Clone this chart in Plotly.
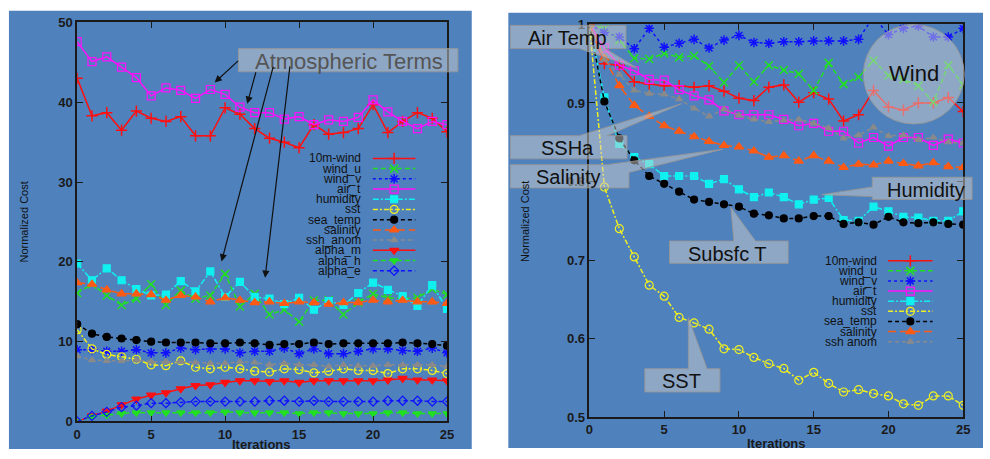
import plotly.graph_objects as go

W, H = 990, 459

iters = list(range(26))

# ---------------- left panel data ----------------
L_names = ["10m-wind", "wind_u", "wind_v", "air_t", "humidity", "sst", "sea_temp",
           "salinity", "ssh_anom", "alpha_m", "alpha_h", "alpha_e"]
L_wind10 = [43.0, 38.3, 38.7, 36.5, 38.9, 38.0, 37.6, 38.2, 35.8, 35.8, 39.3, 38.5, 36.7, 35.5, 35.0, 34.3, 37.2, 36.0, 36.2, 36.7, 39.7, 36.2, 37.6, 38.7, 38.0, 36.3]
L_wind_u = [16.1, 17.2, 15.8, 14.6, 15.4, 17.2, 14.6, 16.4, 15.4, 15.8, 18.5, 14.4, 16.0, 13.4, 14.0, 12.5, 15.2, 15.2, 13.4, 14.9, 16.0, 15.5, 15.4, 15.5, 16.6, 15.9]
L_wind_v = [9.0, 9.0, 8.8, 8.8, 9.0, 8.6, 8.6, 9.2, 9.0, 9.1, 9.1, 8.6, 8.8, 8.8, 9.2, 8.5, 9.1, 8.5, 8.5, 8.8, 9.1, 9.1, 8.9, 8.8, 9.2, 8.6]
L_air_t = [47.6, 45.1, 45.7, 44.4, 43.1, 40.8, 41.8, 41.5, 40.5, 41.6, 41.0, 39.4, 38.7, 38.7, 37.9, 38.2, 37.2, 37.8, 37.6, 38.1, 40.3, 38.8, 37.6, 36.7, 37.6, 37.2]
L_humidity = [19.8, 17.7, 19.2, 17.7, 16.6, 15.8, 15.9, 17.6, 16.3, 18.8, 15.6, 17.5, 15.6, 15.4, 14.7, 15.5, 14.0, 15.1, 14.6, 16.1, 17.4, 16.5, 15.7, 14.5, 17.1, 14.1]
L_sst = [11.5, 9.1, 8.4, 8.1, 7.8, 7.1, 7.0, 7.6, 6.8, 6.6, 6.8, 6.6, 6.3, 6.2, 6.6, 6.5, 6.1, 6.3, 6.6, 6.4, 6.4, 6.0, 6.6, 6.6, 6.4, 6.0]
L_sea_temp = [12.2, 11.0, 10.6, 10.4, 10.2, 10.0, 9.9, 9.9, 9.9, 9.8, 9.8, 9.9, 9.8, 9.6, 9.7, 9.7, 9.9, 9.7, 9.8, 9.8, 9.8, 9.8, 9.9, 9.8, 9.7, 9.5]
L_salinity = [17.4, 17.2, 16.5, 16.0, 16.0, 15.9, 15.2, 15.8, 15.6, 15.0, 15.5, 15.2, 14.9, 15.0, 14.8, 15.0, 14.9, 14.7, 14.9, 14.9, 15.2, 15.0, 15.2, 15.0, 15.0, 14.8]
L_ssh_anom = [8.2, 7.7, 7.6, 7.6, 7.7, 7.5, 7.5, 7.5, 7.4, 7.3, 7.3, 7.5, 7.4, 7.1, 7.3, 7.1, 7.1, 6.9, 7.1, 7.0, 7.0, 7.1, 7.1, 7.1, 7.1, 6.9]
L_alpha_m = [0, 0.7, 1.3, 2.1, 2.8, 3.3, 3.6, 4.1, 4.5, 4.6, 4.9, 5.1, 5.1, 5.0, 5.1, 4.9, 5.1, 5.1, 5.1, 5.1, 5.1, 5.2, 5.4, 5.2, 5.2, 5.1]
L_alpha_h = [0, 0.6, 0.8, 1.0, 1.1, 1.1, 1.1, 1.1, 1.1, 1.1, 1.2, 1.1, 1.1, 1.1, 1.1, 1.0, 1.1, 1.1, 1.0, 1.0, 1.0, 1.1, 1.1, 1.0, 1.0, 1.0]
L_alpha_e = [0, 0.7, 1.2, 1.8, 2.0, 2.3, 2.3, 2.4, 2.5, 2.5, 2.5, 2.5, 2.5, 2.6, 2.6, 2.5, 2.6, 2.5, 2.5, 2.5, 2.5, 2.6, 2.6, 2.6, 2.5, 2.5]
L_values = [L_wind10, L_wind_u, L_wind_v, L_air_t, L_humidity, L_sst, L_sea_temp,
            L_salinity, L_ssh_anom, L_alpha_m, L_alpha_h, L_alpha_e]

# ---------------- right panel data ----------------
R_names = ["10m-wind", "wind_u", "wind_v", "air_t", "humidity", "sst", "sea_temp",
           "salinity", "ssh anom"]
R_wind10 = [1.0, 0.950, 0.948, 0.927, 0.924, 0.922, 0.922, 0.920, 0.922, 0.915, 0.906, 0.903, 0.920, 0.923, 0.901, 0.913, 0.905, 0.877, 0.885, 0.916, 0.895, 0.891, 0.900, 0.900, 0.907, 0.889]
R_wind_u = [1.0, 0.995, 0.980, 0.957, 0.956, 0.963, 0.958, 0.960, 0.947, 0.926, 0.948, 0.927, 0.948, 0.942, 0.937, 0.916, 0.951, 0.924, 0.933, 0.954, 0.935, 0.930, 0.922, 0.901, 0.948, 0.923]
R_wind_v = [1.0, 0.990, 0.984, 0.969, 0.995, 0.971, 0.976, 0.981, 0.970, 0.980, 0.986, 0.977, 0.976, 0.978, 0.978, 0.979, 0.979, 0.979, 0.981, 1.010, 0.987, 0.995, 0.998, 0.984, 0.984, 0.995]
R_air_t = [1.0, 0.970, 0.948, 0.941, 0.930, 0.929, 0.917, 0.909, 0.904, 0.890, 0.885, 0.885, 0.885, 0.879, 0.871, 0.874, 0.864, 0.864, 0.849, 0.856, 0.845, 0.856, 0.856, 0.846, 0.854, 0.849]
R_humidity = [1.0, 0.907, 0.848, 0.831, 0.822, 0.807, 0.807, 0.807, 0.797, 0.803, 0.790, 0.780, 0.786, 0.780, 0.771, 0.777, 0.779, 0.751, 0.750, 0.768, 0.762, 0.755, 0.754, 0.750, 0.750, 0.762]
R_sst = [1.0, 0.793, 0.740, 0.704, 0.668, 0.654, 0.627, 0.620, 0.612, 0.587, 0.586, 0.576, 0.568, 0.562, 0.547, 0.557, 0.543, 0.532, 0.535, 0.530, 0.527, 0.517, 0.515, 0.527, 0.527, 0.515]
R_sea_temp = [1.0, 0.902, 0.855, 0.827, 0.807, 0.797, 0.787, 0.777, 0.774, 0.771, 0.768, 0.759, 0.757, 0.753, 0.753, 0.756, 0.756, 0.746, 0.748, 0.745, 0.755, 0.748, 0.747, 0.748, 0.746, 0.745]
R_salinity = [1.0, 0.957, 0.922, 0.897, 0.883, 0.871, 0.864, 0.857, 0.851, 0.846, 0.844, 0.839, 0.831, 0.833, 0.826, 0.833, 0.826, 0.818, 0.822, 0.821, 0.826, 0.823, 0.820, 0.824, 0.819, 0.818]
R_ssh_anom = [1.0, 0.955, 0.936, 0.916, 0.912, 0.911, 0.905, 0.893, 0.883, 0.892, 0.884, 0.879, 0.876, 0.878, 0.879, 0.874, 0.868, 0.855, 0.859, 0.869, 0.858, 0.859, 0.853, 0.856, 0.850, 0.849]
R_values = [R_wind10, R_wind_u, R_wind_v, R_air_t, R_humidity, R_sst, R_sea_temp,
            R_salinity, R_ssh_anom]

x_ticks = [0, 5, 10, 15, 20, 25]
L_yticks = [0, 10, 20, 30, 40, 50]
R_yticks = [0.5, 0.6, 0.7, 0.8, 0.9, 1.0]
R_yticktext = ["0.5", "0.6", "0.7", "0.8", "0.9", "1"]

# ---------------- styles ----------------
STYLE = {
    "10m-wind": dict(color="#ff1010", dash="solid", symbol="cross-thin-open", size=8),
    "wind_u": dict(color="#20e020", dash="5px,3px", symbol="x-thin-open", size=8),
    "wind_v": dict(color="#1010ff", dash="3px,3px", symbol="asterisk-open", size=8),
    "air_t": dict(color="#ff10ff", dash="solid", symbol="square-open", size=8),
    "humidity": dict(color="#10f0f0", dash="6px,2px,2px,2px", symbol="square", size=7),
    "sst": dict(color="#f0f020", dash="5px,2px,2px,2px", symbol="circle-open", size=8),
    "sea_temp": dict(color="#000000", dash="4px,3px", symbol="circle", size=7),
    "salinity": dict(color="#ff5a14", dash="8px,4px", symbol="triangle-up", size=8),
    "ssh_anom": dict(color="#8a8a8a", dash="4px,3px", symbol="triangle-up", size=6),
    "ssh anom": dict(color="#8a8a8a", dash="4px,3px", symbol="triangle-up", size=6),
    "alpha_m": dict(color="#ff1010", dash="solid", symbol="triangle-down", size=8),
    "alpha_h": dict(color="#20e020", dash="5px,3px", symbol="triangle-down", size=7),
    "alpha_e": dict(color="#1010ff", dash="4px,3px", symbol="diamond-open", size=7),
}
THIN = ("cross-thin-open", "x-thin-open", "asterisk-open")


def fx(px):
    return px / W


def fy(py):
    return 1 - py / H


BLUE = "#4f81bd"
FONT = "Liberation Sans, Arial, sans-serif"

fig = go.Figure()


def add_series(name, xs, ys, xa, ya):
    s = STYLE[name]
    thin = s["symbol"] in THIN
    fig.add_trace(go.Scatter(
        x=xs, y=ys, mode="lines+markers", name=name, showlegend=False,
        xaxis=xa, yaxis=ya,
        line=dict(color=s["color"], width=1.5, dash=s["dash"]),
        marker=dict(symbol=s["symbol"], size=s["size"], color=s["color"],
                    line=dict(color=s["color"], width=1.5 if thin else 1.2)),
    ))


for n, v in zip(L_names, L_values):
    add_series(n, iters, v, "x", "y")
for n, v in zip(R_names, R_values):
    add_series(n, iters, v, "x2", "y2")


def note(px, py, text, size, color="#111", xanchor="center", yanchor="middle",
         angle=0, weight="normal"):
    fig.add_annotation(x=fx(px), y=fy(py), xref="paper", yref="paper", text=text,
                       showarrow=False, xanchor=xanchor, yanchor=yanchor, textangle=angle,
                       font=dict(family=FONT, size=size, color=color, weight=weight))


# ---------------- custom legends (overlay pixel axis) ----------------
def add_legend(names, text_right, x0, x1, y0, dy, fsize):
    for k, n in enumerate(names):
        s = STYLE[n]
        yy = y0 + k * dy
        xm = (x0 + x1) / 2
        thin = s["symbol"] in THIN
        fig.add_trace(go.Scatter(
            x=[x0, x1], y=[yy, yy], mode="lines", showlegend=False, hoverinfo="skip",
            xaxis="x3", yaxis="y3",
            line=dict(color=s["color"], width=1.5, dash=s["dash"])))
        fig.add_trace(go.Scatter(
            x=[xm], y=[yy], mode="markers", showlegend=False, hoverinfo="skip",
            xaxis="x3", yaxis="y3",
            marker=dict(symbol=s["symbol"], size=s["size"], color=s["color"],
                        line=dict(color=s["color"], width=1.5 if thin else 1.2))))
        note(text_right, yy, n, fsize, "#111", xanchor="right")


add_legend(L_names, 363, 373, 416, 156.5, 10.56, 12)
add_legend(R_names, 885, 894, 939, 262.3, 10.46, 12)

# ---------------- axes ----------------
axis_common = dict(showgrid=False, zeroline=False, showline=True, linecolor="#1a1a1a",
                   linewidth=1.5, mirror="ticks", ticks="inside", ticklen=6,
                   tickcolor="#1a1a1a", tickwidth=1.2,
                   tickfont=dict(family=FONT, size=13, color="#1a1a1a", weight="bold"))

fig.update_layout(
    width=W, height=H,
    margin=dict(l=0, r=0, t=0, b=0),
    paper_bgcolor="white",
    plot_bgcolor="rgba(0,0,0,0)",
    showlegend=False,
    xaxis=dict(domain=[fx(74), fx(448)], range=[0, 25], tickvals=x_ticks, anchor="y",
               **axis_common),
    yaxis=dict(domain=[fy(428.5), fy(16)], range=[0, 50], tickvals=L_yticks, anchor="x",
               **axis_common),
    xaxis2=dict(domain=[fx(592), fx(970)], range=[0, 25], tickvals=x_ticks, anchor="y2",
                **axis_common),
    yaxis2=dict(domain=[fy(424), fy(18)], range=[0.5, 1.0], tickvals=R_yticks,
                ticktext=R_yticktext, anchor="x2", **axis_common),
    xaxis3=dict(domain=[0, 1], range=[0, W], visible=False, anchor="y3", fixedrange=True),
    yaxis3=dict(domain=[0, 1], range=[H, 0], visible=False, anchor="x3", fixedrange=True),
)

# ---------------- background panels ----------------
fig.add_shape(type="rect", xref="paper", yref="paper", x0=fx(5), x1=fx(473), y0=fy(457), y1=fy(4),
              fillcolor=BLUE, line=dict(width=0), layer="below")
fig.add_shape(type="rect", xref="paper", yref="paper", x0=fx(510), x1=fx(990), y0=fy(456), y1=fy(6),
              fillcolor=BLUE, line=dict(width=0), layer="below")

# ---------------- axis titles ----------------
for cx in (20, 527):
    note(cx, 222, "Normalized Cost", 11, "#111", angle=-90)
for cx, cy in ((260, 452), (781, 451)):
    note(cx, cy, "Iterations", 13, "#1a1a1a", weight="bold")

# ---------------- callouts ----------------
BOX_FILL = "rgba(205,205,205,0.5)"
BOX_LINE = "rgba(150,150,150,0.9)"


def path_of(points):
    return "M " + " L ".join(f"{fx(px):.5f},{fy(py):.5f}" for px, py in points) + " Z"


def callout(pts, text, tx, ty, size=20, color="#111"):
    fig.add_shape(type="path", xref="paper", yref="paper", path=path_of(pts),
                  fillcolor=BOX_FILL, line=dict(color=BOX_LINE, width=1), layer="above")
    note(tx, ty, text, size, color)


# Atmospheric Terms (plain box)
callout([(237, 43), (459, 43), (459, 67), (237, 67)], "Atmospheric Terms", 349, 56, 22, "#555")
for (tipx, tipy), (tx, ty) in [((213, 78), (238, 55)), ((246, 100), (255, 67)),
                               ((220, 263), (272, 67)), ((264, 280), (289, 67))]:
    fig.add_annotation(x=fx(tipx), y=fy(tipy), xref="paper", yref="paper", text="",
                       showarrow=True, ax=tx - tipx, ay=ty - tipy, arrowhead=2,
                       arrowsize=1.2, arrowwidth=1.2, arrowcolor="#111", standoff=0)

callout([(512, 19), (629, 19), (629, 43), (608, 43), (640, 63), (582, 43), (512, 43)],
        "Air Temp", 570, 32)
callout([(512, 133), (582, 133), (685, 100), (610, 133), (630, 133), (630, 157), (512, 157)],
        "SSHa", 570, 146)
callout([(512, 163), (610, 163), (727, 147), (632, 171), (632, 187), (512, 187)],
        "Salinity", 570, 176)
callout([(673, 242), (738, 242), (735, 207), (760, 242), (793, 242), (793, 265), (673, 265)],
        "Subsfc T", 732, 255)
callout([(878, 176), (979, 176), (979, 199), (878, 199), (878, 196), (827, 194), (878, 186)],
        "Humidity", 932, 189)
callout([(648, 374), (692, 374), (692, 321), (711, 374), (724, 374), (724, 398), (648, 398)],
        "SST", 685, 387)

fig.add_shape(type="circle", xref="paper", yref="paper", x0=fx(869), x1=fx(971), y0=fy(121), y1=fy(18),
              fillcolor=BOX_FILL, line=dict(color=BOX_LINE, width=1), layer="above")
note(920, 69, "Wind", 22, "#111")

fig.write_html("out.html")
